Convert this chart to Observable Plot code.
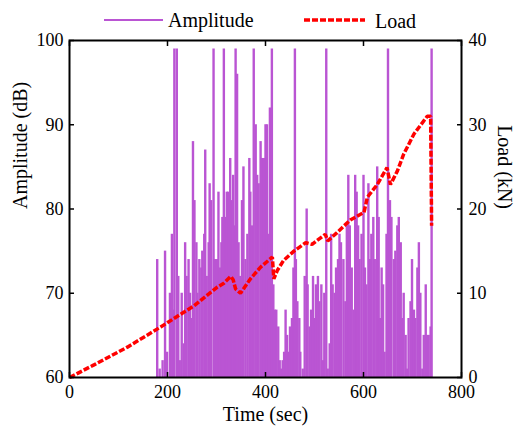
<!DOCTYPE html>
<html>
<head>
<meta charset="utf-8">
<script src="https://cdn.jsdelivr.net/npm/d3@7"></script>
<script src="https://cdn.jsdelivr.net/npm/@observablehq/plot@0.6"></script>
<style>
  body { margin: 0; background: #fff; }
  #wrap { position: relative; width: 515px; height: 427px; font-family: "Liberation Serif", "Times New Roman", Times, serif; }
  #legend { height: 30px; width: 515px; display: block; overflow: visible; }
  #legend text { font-family: "Liberation Serif", "Times New Roman", Times, serif; font-size: 20px; }
</style>
</head>
<body>
<div id="wrap">
  <svg id="legend" width="515" height="30">
    <line x1="104" x2="163" y1="20" y2="20" stroke="#BA55D3" stroke-width="2"></line>
    <text x="168" y="27" fill="#000">Amplitude</text>
    <line x1="304" x2="365" y1="20" y2="20" stroke="#ff0000" stroke-width="3.5" stroke-dasharray="6,2"></line>
    <text x="375" y="28" fill="#000">Load</text>
  </svg>
  <div id="chart"></div>
</div>
<script>
// Acoustic emission hits: time (sec) and amplitude (dB)
const hitTime = [
  179,184,190,195,199,205,209,213,214,219,222,225,229,233,236,239,243,246,250,252,255,259,261,265,
  269,271,275,277,280,284,286,289,294,297,301,304,307,310,312,315,318,321,324,328,331,334,337,339,342,345,348,352,355,359,363,
  367,369,372,376,380,383,386,390,393,397,400,403,406,409,413,416,419,422,426,429,432,435,438,441,444,447,450,454,457,460,
  462,465,469,471,476,480,484,486,490,493,497,500,503,507,510,514,517,520,524,527,531,534,537,541,544,548,551,554,559,
  563,566,569,572,576,580,583,586,589,592,596,600,603,606,610,613,616,620,623,628,631,634,637,640,643,647,650,654,657,
  662,665,669,672,676,679,682,686,689,692,696,699,703,706,710,713,716,720,723,727,730,733,737,739
];
const hitAmplitude = [
  74,61,62,75,63,70,77,68,99,99,72,62,70,64,76,72,74,70,67,88,81,76,70,74,
  73,75,77,87,72,76,83,81,99,74,74,82,73,76,79,99,79,82,82,86,81,84,78,99,96,76,72,81,85,74,77,
  86,82,78,99,90,84,83,88,86,86,90,90,77,92,99,71,68,68,66,62,61,62,63,68,65,63,66,67,73,99,
  74,69,67,63,61,72,80,71,66,68,72,67,71,72,69,71,62,70,99,61,64,77,71,70,73,74,77,76,74,
  69,78,84,78,73,68,84,82,78,74,77,84,73,71,83,74,77,79,74,85,79,67,73,71,63,77,99,81,79,
  74,75,78,79,76,67,70,65,61,67,69,74,68,67,73,76,70,61,65,71,65,65,66,99
];

// Load curve: time (sec) and load (kN)
const loadTime = [0,50,118,186,254,301,315,329,334,339,349,369,390,414,417,424,437,458,482,495,522,527,546,573,601,608,628,648,655,669,682,703,730,737,739];
const loadKN   = [0,1.5,3.6,6.0,8.5,10.7,11.2,12.0,11.6,10.5,10.0,11.7,13.1,14.3,11.7,12.7,13.9,15.0,16.0,15.8,17.0,16.2,17.2,18.7,19.6,21.4,22.9,24.9,22.9,24.5,26.5,28.9,31.0,31.0,18.0];

const xTicks = [0, 200, 400, 600, 800];
const yTicks = [60, 70, 80, 90, 100];          // amplitude (dB)
const loadTicks = [0, 10, 20, 30, 40];         // load (kN)
const ampMin = 60;                             // load axis is amplitude axis shifted by 60

const hits = hitTime.map((t, i) => ({t, amp: hitAmplitude[i]}));
const load = loadTime.map((t, i) => ({t, v: ampMin + loadKN[i]}));

const font = '"Liberation Serif", "Times New Roman", Times, serif';
const chart = Plot.plot({
  width: 515,
  height: 397,
  marginLeft: 69,
  marginRight: 54,
  marginTop: 10,
  marginBottom: 50,
  style: {fontFamily: font, fontSize: "18px", color: "#000", background: "#fff", overflow: "visible"},
  x: {domain: [0, 800]},
  y: {domain: [60, 100]},
  marks: [
    Plot.ruleX(hits, {x: "t", y1: ampMin, y2: "amp", stroke: "#BA55D3", strokeWidth: 2.4}),
    Plot.line(load, {x: "t", y: "v", stroke: "#ff0000", strokeWidth: 3.5, strokeDasharray: "6,2",
                     strokeLinecap: "butt", strokeLinejoin: "miter"}),
    Plot.frame({stroke: "#000", strokeWidth: 2}),
    // inward ticks on all four sides
    Plot.axisX({anchor: "bottom", ticks: xTicks, tickSize: 5, dy: -5, fill: "none", strokeWidth: 1.5, label: null}),
    Plot.axisX({anchor: "top", ticks: xTicks, tickSize: 5, dy: 5, fill: "none", strokeWidth: 1.5, label: null}),
    Plot.axisY({anchor: "left", ticks: yTicks, tickSize: 5, dx: 5, fill: "none", strokeWidth: 1.5, label: null}),
    Plot.axisY({anchor: "right", ticks: yTicks, tickSize: 5, dx: -5, fill: "none", strokeWidth: 1.5, label: null}),
    // tick labels
    Plot.axisX({anchor: "bottom", ticks: xTicks, tickSize: 0, tickPadding: 8, label: null, fontSize: 18}),
    Plot.axisY({anchor: "left", ticks: yTicks, tickSize: 0, tickPadding: 6, label: null, fontSize: 18}),
    Plot.axisY({anchor: "right", ticks: yTicks, tickSize: 0, tickPadding: 7, label: null, fontSize: 18,
                tickFormat: (d) => String(loadTicks[yTicks.indexOf(d)])}),
    // axis titles
    Plot.text(["Time (sec)"], {frameAnchor: "bottom", dy: 43, fontSize: 20, fontFamily: font, text: (d) => d}),
    Plot.text(["Amplitude (dB)"], {frameAnchor: "left", dx: -49, rotate: -90, fontSize: 20, fontFamily: font, text: (d) => d}),
    Plot.text(["Load (kN)"], {frameAnchor: "right", dx: 43, rotate: 90, fontSize: 20, fontFamily: font, text: (d) => d})
  ]
});
document.getElementById("chart").appendChild(chart);
</script>
</body>
</html>
